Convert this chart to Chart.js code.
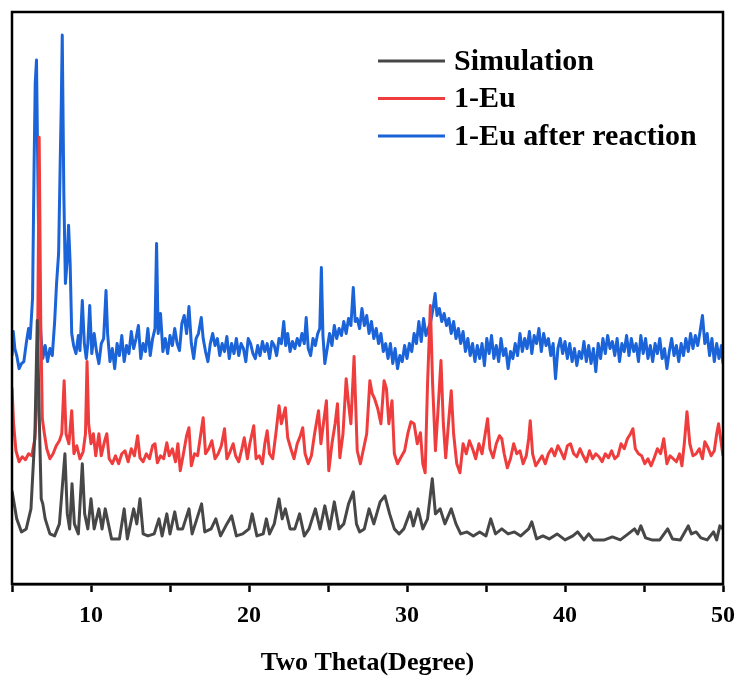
<!DOCTYPE html>
<html>
<head>
<meta charset="utf-8">
<script src="https://cdn.jsdelivr.net/npm/chart.js@4.4.1/dist/chart.umd.min.js"></script>
<style>
  html, body { margin: 0; padding: 0; background: #fff; }
  #wrap { width: 740px; height: 679px; }
</style>
</head>
<body>
<div id="wrap"><canvas id="xrdChart" width="740" height="679"></canvas></div>
<script>
// XRD patterns, stacked (intensity in a.u., offsets included)

const xTicks = [10, 20, 30, 40, 50];
const seriesNames = ['Simulation', '1-Eu', '1-Eu after reaction'];

// Simulation
const simX = [5.0, 5.3, 5.6, 5.9, 6.2, 6.45, 6.6, 6.75, 6.85, 6.95, 7.1, 7.4, 7.7, 8.0, 8.2, 8.35, 8.5, 8.65, 8.8, 8.95,
  9.2, 9.45, 9.6, 9.8, 10.0, 10.2, 10.5, 10.7, 10.9, 11.1, 11.3, 11.8, 12.1, 12.3, 12.7, 12.9, 13.1, 13.3, 13.6, 14.0,
  14.3, 14.5, 14.8, 15.0, 15.3, 15.5, 15.8, 16.2, 16.4, 16.7, 17.0, 17.2, 17.6, 17.9, 18.2, 18.6, 18.9, 19.2, 19.6, 20.0,
  20.2, 20.5, 20.9, 21.1, 21.3, 21.6, 21.9, 22.1, 22.3, 22.6, 22.9, 23.2, 23.5, 23.8, 24.2, 24.5, 24.8, 25.1, 25.4, 25.7,
  26.0, 26.3, 26.6, 26.8, 27.0, 27.3, 27.6, 27.9, 28.3, 28.6, 28.9, 29.2, 29.5, 29.8, 30.2, 30.4, 30.7, 31.0, 31.3, 31.6,
  31.8, 32.1, 32.4, 32.8, 33.1, 33.4, 33.8, 34.2, 34.6, 35.0, 35.3, 35.6, 36.0, 36.4, 36.8, 37.2, 37.7, 37.9, 38.2, 38.6,
  39.0, 39.5, 40.0, 40.5, 40.8, 41.2, 41.5, 41.8, 42.5, 43.0, 43.5, 44.0, 44.4, 44.6, 44.8, 45.1, 45.5, 46.0, 46.5, 46.8,
  47.3, 47.8, 48.0, 48.3, 48.6, 49.0, 49.4, 49.6, 49.8, 50.0];
const simY = [93, 65, 52, 55, 75, 150, 263, 150, 85, 80, 65, 50, 48, 60, 100, 130, 70, 55, 100, 60,
  50, 120, 70, 55, 85, 55, 75, 55, 75, 60, 45, 45, 75, 45, 75, 60, 85, 50, 48, 50,
  65, 48, 70, 50, 72, 55, 55, 75, 50, 65, 80, 52, 55, 65, 48, 60, 68, 48, 50, 55,
  70, 48, 50, 65, 50, 60, 85, 65, 75, 55, 55, 70, 48, 55, 75, 55, 78, 55, 82, 55,
  60, 80, 92, 60, 52, 55, 75, 60, 82, 88, 70, 55, 50, 55, 72, 58, 75, 55, 65, 105,
  70, 75, 60, 75, 60, 50, 52, 48, 52, 48, 65, 50, 55, 50, 52, 48, 55, 62, 45, 48,
  45, 50, 44, 48, 52, 44, 50, 44, 44, 47, 44, 50, 55, 50, 58, 46, 44, 44, 55, 45,
  44, 58, 50, 52, 46, 44, 52, 44, 58, 55];

// 1-Eu
const euX = [5.0, 5.1, 5.25, 5.45, 5.65, 5.85, 6.05, 6.25, 6.45, 6.6, 6.72, 6.82, 6.92, 7.05, 7.2, 7.4, 7.6, 7.8, 8.0, 8.15,
  8.3, 8.42, 8.6, 8.78, 8.92, 9.1, 9.3, 9.5, 9.65, 9.75, 9.85, 10.0, 10.15, 10.3, 10.5, 10.65, 10.85, 11.0, 11.15, 11.35,
  11.55, 11.75, 11.95, 12.15, 12.35, 12.55, 12.75, 12.95, 13.1, 13.3, 13.5, 13.7, 13.9, 14.05, 14.2, 14.4, 14.6, 14.8, 14.95, 15.15,
  15.35, 15.5, 15.65, 15.85, 16.05, 16.2, 16.35, 16.55, 16.75, 16.95, 17.1, 17.25, 17.45, 17.65, 17.85, 18.05, 18.25, 18.45, 18.6, 18.8,
  19.0, 19.15, 19.35, 19.55, 19.7, 19.9, 20.05, 20.3, 20.45, 20.65, 20.85, 21.0, 21.15, 21.3, 21.5, 21.7, 21.9, 22.05, 22.3, 22.45,
  22.65, 22.85, 23.05, 23.25, 23.4, 23.55, 23.75, 23.95, 24.15, 24.4, 24.55, 24.75, 24.9, 25.05, 25.25, 25.45, 25.6, 25.75, 25.95, 26.15,
  26.3, 26.45, 26.65, 26.85, 27.05, 27.25, 27.45, 27.65, 27.8, 27.95, 28.15, 28.35, 28.55, 28.7, 28.85, 29.05, 29.2, 29.4, 29.6, 29.85,
  30.05, 30.25, 30.45, 30.65, 30.85, 31.0, 31.15, 31.3, 31.48, 31.62, 31.8, 31.95, 32.15, 32.3, 32.45, 32.65, 32.8, 32.95, 33.15, 33.35,
  33.55, 33.75, 33.95, 34.15, 34.35, 34.55, 34.75, 34.95, 35.1, 35.25, 35.45, 35.65, 35.85, 36.0, 36.15, 36.35, 36.55, 36.75, 36.95, 37.15,
  37.35, 37.55, 37.7, 37.8, 37.95, 38.15, 38.35, 38.55, 38.75, 38.95, 39.15, 39.35, 39.55, 39.75, 39.95, 40.15, 40.35, 40.55, 40.75, 40.95,
  41.15, 41.35, 41.55, 41.75, 41.95, 42.15, 42.35, 42.55, 42.75, 42.95, 43.15, 43.35, 43.55, 43.75, 43.95, 44.15, 44.3, 44.45, 44.65, 44.85,
  45.05, 45.25, 45.45, 45.65, 45.85, 46.05, 46.25, 46.45, 46.65, 46.85, 47.05, 47.25, 47.4, 47.55, 47.72, 47.9, 48.1, 48.3, 48.5, 48.7,
  48.85, 49.05, 49.25, 49.45, 49.6, 49.72, 49.85, 50.0];
const euY = [196, 160, 133, 122, 127, 124, 130, 128, 145, 190, 446, 260, 165, 150, 135, 125, 130, 138, 143, 150,
  203, 150, 140, 173, 130, 138, 125, 132, 150, 222, 160, 140, 150, 128, 150, 128, 142, 150, 125, 120,
  128, 120, 130, 133, 122, 135, 128, 148, 126, 122, 130, 125, 138, 140, 121, 128, 125, 141, 128, 135,
  122, 140, 113, 130, 148, 156, 118, 130, 128, 150, 166, 130, 135, 143, 125, 130, 138, 155, 125, 132,
  140, 128, 122, 135, 146, 125, 140, 158, 125, 128, 120, 140, 153, 130, 125, 150, 178, 160, 176, 146,
  135, 125, 140, 148, 156, 130, 120, 128, 150, 173, 140, 165, 183, 113, 140, 160, 180, 126, 150, 205,
  180, 160, 227, 133, 120, 135, 150, 203, 190, 185, 175, 160, 203, 195, 160, 183, 130, 120, 126, 133,
  150, 162, 160, 140, 151, 120, 111, 200, 278, 200, 133, 170, 223, 160, 126, 165, 193, 150, 120, 111,
  140, 130, 143, 135, 125, 140, 130, 150, 165, 135, 126, 140, 148, 145, 130, 116, 125, 140, 130, 133,
  120, 128, 145, 163, 130, 118, 123, 128, 120, 130, 135, 128, 138, 132, 125, 138, 140, 130, 127, 135,
  128, 122, 133, 125, 130, 127, 122, 130, 126, 133, 125, 128, 140, 135, 145, 150, 155, 135, 130, 128,
  120, 125, 118, 126, 135, 130, 145, 120, 128, 125, 122, 130, 118, 140, 172, 140, 128, 130, 135, 125,
  142, 136, 128, 133, 150, 160, 145, 128];

// 1-Eu after reaction
const reactX = [5.0, 5.08, 5.18, 5.3, 5.45, 5.6, 5.75, 5.9, 6.05, 6.15, 6.3, 6.4, 6.47, 6.55, 6.62, 6.72, 6.82, 6.95, 7.1, 7.25,
  7.4, 7.55, 7.7, 7.82, 7.95, 8.05, 8.12, 8.18, 8.28, 8.38, 8.48, 8.58, 8.68, 8.78, 8.9, 9.05, 9.2, 9.3, 9.45, 9.58,
  9.7, 9.8, 9.92, 10.05, 10.2, 10.35, 10.5, 10.65, 10.8, 10.95, 11.05, 11.2, 11.35, 11.5, 11.65, 11.8, 11.95, 12.1, 12.25, 12.4,
  12.55, 12.7, 12.85, 13.0, 13.15, 13.3, 13.45, 13.6, 13.75, 13.9, 14.05, 14.15, 14.25, 14.4, 14.55, 14.7, 14.85, 15.0, 15.15, 15.3,
  15.45, 15.6, 15.75, 15.9, 16.05, 16.2, 16.35, 16.5, 16.65, 16.8, 16.98, 17.1, 17.25, 17.4, 17.55, 17.7, 17.85, 18.0, 18.15, 18.3,
  18.45, 18.6, 18.75, 18.9, 19.05, 19.2, 19.35, 19.5, 19.65, 19.8, 19.95, 20.1, 20.25, 20.4, 20.55, 20.7, 20.85, 21.0, 21.15, 21.3,
  21.45, 21.6, 21.75, 21.9, 22.05, 22.2, 22.32, 22.45, 22.6, 22.75, 22.9, 23.05, 23.2, 23.35, 23.5, 23.62, 23.75, 23.9, 24.05, 24.2,
  24.35, 24.48, 24.58, 24.68, 24.8, 24.95, 25.1, 25.25, 25.4, 25.55, 25.7, 25.85, 26.0, 26.15, 26.3, 26.45, 26.6, 26.72, 26.85, 27.0,
  27.15, 27.3, 27.45, 27.6, 27.75, 27.9, 28.05, 28.2, 28.35, 28.5, 28.65, 28.8, 28.95, 29.1, 29.25, 29.4, 29.55, 29.7, 29.85, 30.0,
  30.15, 30.3, 30.45, 30.6, 30.75, 30.9, 31.05, 31.2, 31.35, 31.5, 31.65, 31.78, 31.9, 32.05, 32.2, 32.35, 32.5, 32.65, 32.8, 32.95,
  33.1, 33.25, 33.4, 33.55, 33.7, 33.85, 34.0, 34.15, 34.3, 34.45, 34.6, 34.75, 34.9, 35.05, 35.2, 35.35, 35.5, 35.65, 35.8, 35.95,
  36.1, 36.25, 36.4, 36.55, 36.7, 36.85, 37.0, 37.15, 37.3, 37.45, 37.6, 37.75, 37.9, 38.05, 38.2, 38.35, 38.5, 38.65, 38.8, 38.95,
  39.1, 39.25, 39.4, 39.55, 39.7, 39.85, 40.0, 40.15, 40.3, 40.45, 40.6, 40.75, 40.9, 41.05, 41.2, 41.35, 41.5, 41.65, 41.8, 41.95,
  42.1, 42.25, 42.4, 42.55, 42.7, 42.85, 43.0, 43.15, 43.3, 43.45, 43.6, 43.75, 43.9, 44.05, 44.2, 44.35, 44.5, 44.65, 44.8, 44.95,
  45.1, 45.25, 45.4, 45.55, 45.7, 45.85, 46.0, 46.15, 46.3, 46.45, 46.6, 46.75, 46.9, 47.05, 47.2, 47.35, 47.5, 47.65, 47.8, 47.95,
  48.1, 48.25, 48.4, 48.55, 48.7, 48.85, 49.0, 49.15, 49.3, 49.45, 49.6, 49.75, 49.9, 50.0];
const reactY = [228, 252, 235, 228, 215, 220, 222, 240, 255, 245, 285, 420, 500, 523, 430, 300, 250, 225, 238, 222,
  235, 228, 262, 300, 330, 420, 480, 548, 390, 300, 320, 358, 320, 250, 238, 230, 248, 233, 283, 240,
  225, 240, 278, 230, 250, 232, 220, 240, 245, 293, 250, 222, 235, 215, 240, 228, 248, 222, 238, 230,
  252, 235, 245, 258, 225, 240, 232, 255, 228, 245, 255, 340, 250, 270, 232, 245, 230, 248, 238, 255,
  240, 233, 260, 268, 250, 277, 240, 225, 245, 250, 266, 245, 232, 222, 240, 250, 238, 245, 228, 240,
  232, 247, 225, 240, 230, 245, 228, 240, 235, 222, 245, 240, 230, 225, 238, 228, 242, 232, 240, 225,
  242, 238, 228, 245, 240, 262, 238, 250, 232, 242, 235, 245, 238, 250, 240, 266, 235, 228, 245, 238,
  250, 255, 316, 248, 220, 235, 250, 238, 258, 245, 255, 248, 262, 250, 265, 258, 296, 262, 265, 255,
  275, 258, 268, 250, 262, 245, 255, 240, 250, 232, 240, 225, 240, 220, 235, 215, 228, 222, 238, 225,
  240, 232, 250, 240, 262, 242, 265, 248, 255, 262, 275, 290, 268, 275, 262, 270, 258, 265, 250, 262,
  245, 255, 240, 252, 232, 245, 228, 240, 222, 238, 225, 240, 218, 245, 230, 248, 225, 238, 222, 245,
  228, 235, 215, 232, 225, 240, 228, 250, 232, 245, 235, 252, 230, 248, 240, 255, 232, 250, 238, 245,
  228, 240, 205, 235, 245, 230, 242, 225, 240, 222, 235, 218, 232, 225, 242, 222, 238, 220, 235, 212,
  240, 225, 245, 230, 248, 235, 242, 228, 245, 222, 240, 232, 248, 228, 245, 232, 240, 222, 248, 230,
  245, 225, 238, 222, 240, 230, 245, 225, 235, 215, 232, 245, 228, 238, 222, 240, 228, 245, 232, 250,
  235, 248, 238, 252, 268, 240, 250, 228, 245, 222, 240, 225, 238, 220];

const lineColors = ['#474747', '#ef3d3d', '#1b63d8'];
const serif = '"Liberation Serif", "Times New Roman", serif';

function zip(xs, ys) {
  return xs.map((x, i) => ({ x: x, y: ys[i] }));
}

// plot frame + legend drawn inside the plot
const framePlugin = {
  id: 'frame',
  afterDraw(chart) {
    const { ctx, chartArea } = chart;
    ctx.save();
    ctx.strokeStyle = '#000';
    ctx.lineWidth = 2.5;
    ctx.strokeRect(chartArea.left, chartArea.top, chartArea.right - chartArea.left, chartArea.bottom - chartArea.top);

    ctx.font = 'bold 30px ' + serif;
    ctx.textBaseline = 'middle';
    chart.data.datasets.forEach((ds, i) => {
      const y = 61 + i * 37.5;
      ctx.strokeStyle = ds.borderColor;
      ctx.lineWidth = 3;
      ctx.beginPath();
      ctx.moveTo(378, y);
      ctx.lineTo(445, y);
      ctx.stroke();
      ctx.fillStyle = '#000';
      ctx.fillText(ds.label, 454, y + 1);
    });
    ctx.restore();
  }
};

const ctx = document.getElementById('xrdChart').getContext('2d');
const xrdChart = new Chart(ctx, {
  type: 'line',
  data: {
    datasets: [
      { label: seriesNames[0], data: zip(simX, simY), borderColor: lineColors[0] },
      { label: seriesNames[1], data: zip(euX, euY), borderColor: lineColors[1] },
      { label: seriesNames[2], data: zip(reactX, reactY), borderColor: lineColors[2] }
    ]
  },
  options: {
    responsive: false,
    animation: false,
    layout: { padding: { left: 12, right: 17, top: 12, bottom: 0 } },
    elements: {
      line: { borderWidth: 3, tension: 0, borderJoinStyle: 'round' },
      point: { radius: 0 }
    },
    plugins: {
      legend: { display: false },
      tooltip: { enabled: false }
    },
    scales: {
      x: {
        type: 'linear',
        min: 5,
        max: 50,
        afterFit: (scale) => { scale.paddingLeft = 0; scale.paddingRight = 0; },
        ticks: {
          stepSize: 5,
          autoSkip: false,
          maxRotation: 0,
          padding: 9,
          color: '#000',
          font: { family: serif, size: 24, weight: 'bold' },
          callback: (v) => (xTicks.includes(v) ? v : '')
        },
        grid: {
          drawOnChartArea: false,
          drawTicks: true,
          tickLength: 8,
          tickWidth: 2.5,
          tickColor: '#000'
        },
        border: { display: true, color: '#000', width: 2.5 },
        title: {
          display: true,
          text: 'Two Theta(Degree)',
          color: '#000',
          font: { family: serif, size: 26, weight: 'bold' },
          padding: { top: 9, bottom: 0 }
        }
      },
      y: {
        display: false,
        min: 0,
        max: 571
      }
    }
  },
  plugins: [framePlugin]
});
</script>
</body>
</html>
